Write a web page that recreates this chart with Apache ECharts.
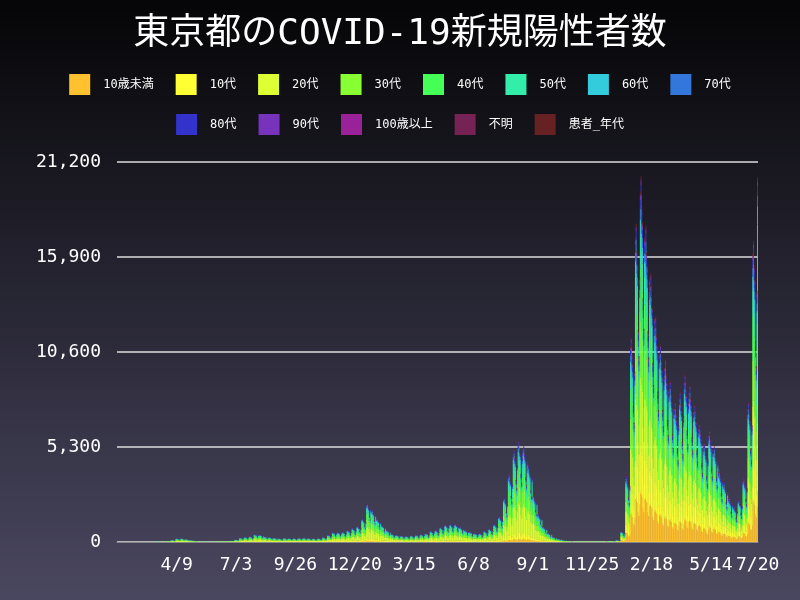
<!DOCTYPE html>
<html><head><meta charset="utf-8">
<script src="https://cdn.jsdelivr.net/npm/echarts@6/dist/echarts.min.js"></script>
<style>html,body{margin:0;padding:0;}#c{width:800px;height:600px;}</style>
</head><body><div id="c"></div>
<script>
// weekly average daily cases, weeks starting 2020-01-15
var weeklyAvg = [0,0,1,1,2,2,3, 5,8,15,40, 90,160,170,120,70,30,10, 8,12,20,28,40,55,
 110,200,230,260,360,340,250,220, 190,160,180,170,170,180,190,170,160,170,
 220,330,450,460,470,550,650,740,1100, 1800,1500,1100,800,560,380,330,290,
 270,300,330,360,410, 520,560,700,820,840,850,700,560, 480,410,410,520,620,
 840,1200,2100,3200,4300,4700,4500,3600, 2200,1300,720,420,230,
 140,70,40,30,25,20,20,20,22,25,30,50,
 80,500,3100,9500,14800,17000,14700,12500,10500,
 9200,8500,7500,6500,7000,7800,7300,6400,5500,
 4600,5200,4500,3400,2800,2100,1700,2000, 3000,6500,14000,17700];
// weekday factor, starting Wednesday
var weekdayFactor = [1.15,1.2,1.1,1.05,0.8,0.7,1.0];
var seriesNames = ['10歳未満','10代','20代','30代','40代','50代','60代','70代','80代','90代','100歳以上','不明','患者_年代'];
var colors = ['#FFC12E','#FFFF33','#DDFF33','#88FF33','#44FF55','#33EEAA','#33CCDD','#3377DD','#3333CC','#7733BB','#992299','#772255','#662222'];
var share2020 = [3,7,30,20,16,12,5,3,2,1,0.05,0.5,0.45];
var share2022 = [14,13,20,16,15,9,5,3,2.5,1.2,0.1,0.6,0.6];
var tickLabels = ['0','5,300','10,600','15,900','21,200'];

var N = 918, start = new Date(2020,0,15);
var cats = [], totals = [];
for (var i=0;i<N;i++){
  var d = new Date(start.getTime()); d.setDate(d.getDate()+i);
  cats.push((d.getMonth()+1)+'/'+d.getDate());
  totals.push(Math.round(weeklyAvg[Math.floor(i/7)]*weekdayFactor[i%7]));
}
var idx2022 = 717; // 2022-01-01
var series = seriesNames.map(function(n,k){
  return {name:n,type:'bar',stack:'a',barCategoryGap:'0%',itemStyle:{color:colors[k]},
    data: totals.map(function(t,i){var s=(i>=idx2022?share2022:share2020)[k];return Math.round(t*s/100);})};
});
var font = '"DejaVu Sans Mono","Noto Sans CJK JP",monospace';
var lt = {color:'#fff',fontSize:12,fontFamily:font,padding:[0,0,0,8]};
var chart = echarts.init(document.getElementById('c'));
chart.setOption({
  animation:false,
  backgroundColor:new echarts.graphic.LinearGradient(0,0,0,1,[{offset:0,color:'#050507'},{offset:1,color:'#4a4760'}]),
  title:{text:'東京都のCOVID-19新規陽性者数',left:'center',top:12,textStyle:{color:'#fff',fontSize:36,fontWeight:'normal',fontFamily:font}},
  legend:[
   {data:seriesNames.slice(0,8),top:69,left:'center',itemWidth:21,itemHeight:21,itemGap:22,icon:'rect',textStyle:lt},
   {data:seriesNames.slice(8),top:109,left:'center',itemWidth:21,itemHeight:21,itemGap:22,icon:'rect',textStyle:lt}
  ],
  grid:{left:117,right:42,top:162,bottom:58},
  xAxis:{type:'category',data:cats,axisTick:{show:false},axisLine:{lineStyle:{color:'#888'}},
    axisLabel:{color:'#fff',fontSize:18,fontFamily:font,margin:14,
      interval:function(i){return (i>0&&i%85==0&&i<880)||i==N-1;}}},
  yAxis:{type:'value',min:0,max:21200,interval:5300,
    axisLabel:{color:'#fff',fontSize:18,fontFamily:font,margin:16,formatter:function(v){return tickLabels[Math.round(v/5300)];}},
    splitLine:{lineStyle:{color:'#ddd',width:1.5}}},
  series:series
});
</script></body></html>
